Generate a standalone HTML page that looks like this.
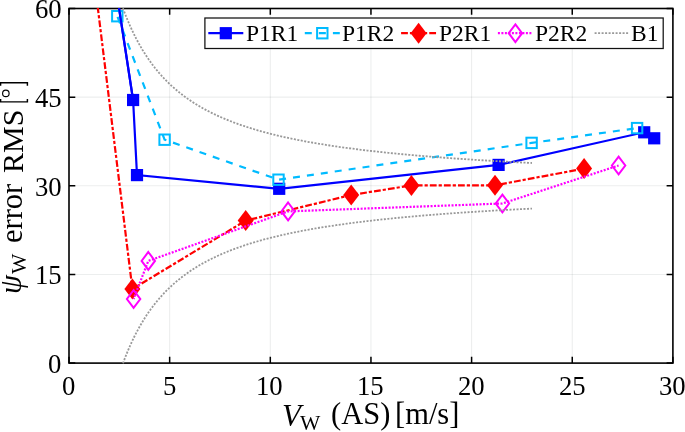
<!DOCTYPE html>
<html><head><meta charset="utf-8"><style>
html,body{margin:0;padding:0;background:#fff;width:685px;height:432px;overflow:hidden}
svg{display:block}
body{font-family:"Liberation Serif",serif;color:#000}
.tx{position:absolute;line-height:1;white-space:nowrap;will-change:transform}
.sub{font-size:0.7em;position:relative;top:0.1em}
i{font-style:italic}
</style></head><body>
<svg width="685" height="432" viewBox="0 0 685 432">
<defs><clipPath id="c"><rect x="68.4" y="7.9" width="605.1" height="355.8"/></clipPath></defs>
<rect width="685" height="432" fill="#fff"/>
<path d="M169.65,8.5 V363.1 M270.30,8.5 V363.1 M370.95,8.5 V363.1 M471.60,8.5 V363.1 M572.25,8.5 V363.1" stroke="rgba(0,25,25,0.075)" stroke-width="1.1" fill="none"/>
<path d="M69.0,274.45 H672.9 M69.0,185.80 H672.9 M69.0,97.15 H672.9" stroke="rgba(0,25,25,0.075)" stroke-width="1.1" fill="none"/>
<path d="M69.00,363.1 V356.8 M69.00,8.5 V14.8 M169.65,363.1 V356.8 M169.65,8.5 V14.8 M270.30,363.1 V356.8 M270.30,8.5 V14.8 M370.95,363.1 V356.8 M370.95,8.5 V14.8 M471.60,363.1 V356.8 M471.60,8.5 V14.8 M572.25,363.1 V356.8 M572.25,8.5 V14.8 M672.90,363.1 V356.8 M672.90,8.5 V14.8 M69.0,363.10 H75.3 M672.9,363.10 H666.6 M69.0,274.45 H75.3 M672.9,274.45 H666.6 M69.0,185.80 H75.3 M672.9,185.80 H666.6 M69.0,97.15 H75.3 M672.9,97.15 H666.6 M69.0,8.50 H75.3 M672.9,8.50 H666.6" stroke="#000" stroke-width="1.5" fill="none"/>
<rect x="69.0" y="8.5" width="603.90" height="354.60" fill="none" stroke="#000" stroke-width="1.6"/>
<g clip-path="url(#c)">
<path d="M114.50,-21.50 L133.10,100.00 L137.00,175.10 L279.20,188.80 L498.60,164.90 L644.20,132.30 L654.20,138.30" fill="none" stroke="#0000ff" stroke-width="2.2"/>
<rect x="127.00" y="93.90" width="12.2" height="12.2" fill="#0000ff"/>
<rect x="130.90" y="169.00" width="12.2" height="12.2" fill="#0000ff"/>
<rect x="273.10" y="182.70" width="12.2" height="12.2" fill="#0000ff"/>
<rect x="492.50" y="158.80" width="12.2" height="12.2" fill="#0000ff"/>
<rect x="638.10" y="126.20" width="12.2" height="12.2" fill="#0000ff"/>
<rect x="648.10" y="132.20" width="12.2" height="12.2" fill="#0000ff"/>
<path d="M117.30,16.20 L164.60,139.70 L278.50,179.70 L531.60,142.90 L637.10,128.10" fill="none" stroke="#00bbff" stroke-width="2.2" stroke-dasharray="7 7.05" stroke-dashoffset="-0.68"/>
<rect x="112.10" y="11.00" width="10.4" height="10.4" fill="none" stroke="#00bbff" stroke-width="2"/>
<rect x="159.40" y="134.50" width="10.4" height="10.4" fill="none" stroke="#00bbff" stroke-width="2"/>
<rect x="273.30" y="174.50" width="10.4" height="10.4" fill="none" stroke="#00bbff" stroke-width="2"/>
<rect x="526.40" y="137.70" width="10.4" height="10.4" fill="none" stroke="#00bbff" stroke-width="2"/>
<rect x="631.90" y="122.90" width="10.4" height="10.4" fill="none" stroke="#00bbff" stroke-width="2"/>
<path d="M114.50,-21.50 L133.10,100.00" fill="none" stroke="#0000ff" stroke-width="2.2"/>
<path d="M92.98,-31.50 L132.40,289.10 L245.70,220.60 L351.20,195.00 L411.40,185.40 L495.00,185.30 L584.10,168.60" fill="none" stroke="#ff0000" stroke-width="2.2" stroke-dasharray="6.8 2.0 3.2 2.075" stroke-dashoffset="4.07"/>
<path d="M132.40,278.60 L140.40,289.10 L132.40,299.60 L124.40,289.10 Z" fill="#ff0000"/>
<path d="M245.70,210.10 L253.70,220.60 L245.70,231.10 L237.70,220.60 Z" fill="#ff0000"/>
<path d="M351.20,184.50 L359.20,195.00 L351.20,205.50 L343.20,195.00 Z" fill="#ff0000"/>
<path d="M411.40,174.90 L419.40,185.40 L411.40,195.90 L403.40,185.40 Z" fill="#ff0000"/>
<path d="M495.00,174.80 L503.00,185.30 L495.00,195.80 L487.00,185.30 Z" fill="#ff0000"/>
<path d="M584.10,158.10 L592.10,168.60 L584.10,179.10 L576.10,168.60 Z" fill="#ff0000"/>
<path d="M133.60,299.00 L148.30,260.90 L288.10,211.40 L502.40,203.50 L618.60,165.50" fill="none" stroke="#ff00ff" stroke-width="2.2" stroke-dasharray="2 1.5" stroke-dashoffset="0.8"/>
<path d="M133.60,290.10 L140.30,299.00 L133.60,307.90 L126.90,299.00 Z" fill="none" stroke="#ff00ff" stroke-width="2"/>
<path d="M148.30,252.00 L155.00,260.90 L148.30,269.80 L141.60,260.90 Z" fill="none" stroke="#ff00ff" stroke-width="2"/>
<path d="M288.10,202.50 L294.80,211.40 L288.10,220.30 L281.40,211.40 Z" fill="none" stroke="#ff00ff" stroke-width="2"/>
<path d="M502.40,194.60 L509.10,203.50 L502.40,212.40 L495.70,203.50 Z" fill="none" stroke="#ff00ff" stroke-width="2"/>
<path d="M618.60,156.60 L625.30,165.50 L618.60,174.40 L611.90,165.50 Z" fill="none" stroke="#ff00ff" stroke-width="2"/>
<path d="M115.30,-15.00 L117.38,-8.15 L119.47,-1.71 L121.55,4.36 L123.63,10.09 L125.72,15.49 L127.80,20.60 L129.88,25.44 L131.97,30.02 L134.05,34.36 L136.13,38.48 L138.22,42.40 L140.30,46.12 L142.38,49.67 L144.47,53.05 L146.55,56.27 L148.63,59.35 L150.72,62.29 L152.80,65.11 L154.88,67.80 L156.97,70.38 L159.05,72.86 L161.14,75.23 L163.22,77.51 L165.30,79.70 L167.39,81.81 L169.47,83.84 L171.55,85.79 L173.64,87.67 L175.72,89.48 L177.80,91.23 L179.89,92.92 L181.97,94.55 L184.05,96.13 L186.14,97.65 L188.22,99.12 L190.30,100.55 L192.39,101.93 L194.47,103.27 L196.55,104.56 L198.64,105.82 L200.72,107.04 L202.80,108.22 L204.89,109.37 L206.97,110.49 L209.05,111.57 L211.14,112.63 L213.22,113.65 L215.30,114.65 L217.39,115.62 L219.47,116.57 L221.56,117.49 L223.64,118.38 L225.72,119.26 L227.81,120.11 L229.89,120.94 L231.97,121.75 L234.06,122.54 L236.14,123.31 L238.22,124.06 L240.31,124.79 L242.39,125.51 L244.47,126.21 L246.56,126.90 L248.64,127.57 L250.72,128.22 L252.81,128.86 L254.89,129.49 L256.97,130.10 L259.06,130.70 L261.14,131.29 L263.22,131.86 L265.31,132.43 L267.39,132.98 L269.47,133.52 L271.56,134.05 L273.64,134.57 L275.73,135.07 L277.81,135.57 L279.89,136.06 L281.98,136.54 L284.06,137.01 L286.14,137.47 L288.23,137.93 L290.31,138.37 L292.39,138.81 L294.48,139.24 L296.56,139.66 L298.64,140.07 L300.73,140.48 L302.81,140.88 L304.89,141.27 L306.98,141.66 L309.06,142.03 L311.14,142.41 L313.23,142.77 L315.31,143.13 L317.39,143.49 L319.48,143.84 L321.56,144.18 L323.64,144.52 L325.73,144.85 L327.81,145.17 L329.89,145.49 L331.98,145.81 L334.06,146.12 L336.15,146.43 L338.23,146.73 L340.31,147.03 L342.40,147.32 L344.48,147.61 L346.56,147.89 L348.65,148.17 L350.73,148.45 L352.81,148.72 L354.90,148.99 L356.98,149.25 L359.06,149.52 L361.15,149.77 L363.23,150.03 L365.31,150.27 L367.40,150.52 L369.48,150.76 L371.56,151.00 L373.65,151.24 L375.73,151.47 L377.81,151.70 L379.90,151.93 L381.98,152.15 L384.06,152.37 L386.15,152.59 L388.23,152.81 L390.32,153.02 L392.40,153.23 L394.48,153.44 L396.57,153.64 L398.65,153.84 L400.73,154.04 L402.82,154.24 L404.90,154.44 L406.98,154.63 L409.07,154.82 L411.15,155.01 L413.23,155.19 L415.32,155.37 L417.40,155.56 L419.48,155.73 L421.57,155.91 L423.65,156.09 L425.73,156.26 L427.82,156.43 L429.90,156.60 L431.98,156.76 L434.07,156.93 L436.15,157.09 L438.23,157.25 L440.32,157.41 L442.40,157.57 L444.48,157.73 L446.57,157.88 L448.65,158.03 L450.74,158.18 L452.82,158.33 L454.90,158.48 L456.99,158.63 L459.07,158.77 L461.15,158.91 L463.24,159.06 L465.32,159.20 L467.40,159.33 L469.49,159.47 L471.57,159.61 L473.65,159.74 L475.74,159.87 L477.82,160.01 L479.90,160.14 L481.99,160.27 L484.07,160.39 L486.15,160.52 L488.24,160.64 L490.32,160.77 L492.40,160.89 L494.49,161.01 L496.57,161.13 L498.65,161.25 L500.74,161.37 L502.82,161.49 L504.91,161.60 L506.99,161.72 L509.07,161.83 L511.16,161.94 L513.24,162.06 L515.32,162.17 L517.41,162.28 L519.49,162.38 L521.57,162.49 L523.66,162.60 L525.74,162.70 L527.82,162.81 L529.91,162.91 L531.99,163.01" fill="none" stroke="#999999" stroke-width="1.8" stroke-dasharray="2 1.5"/>
<path d="M115.30,386.60 L117.38,379.75 L119.47,373.31 L121.55,367.24 L123.63,361.51 L125.72,356.11 L127.80,351.00 L129.88,346.16 L131.97,341.58 L134.05,337.24 L136.13,333.12 L138.22,329.20 L140.30,325.48 L142.38,321.93 L144.47,318.55 L146.55,315.33 L148.63,312.25 L150.72,309.31 L152.80,306.49 L154.88,303.80 L156.97,301.22 L159.05,298.74 L161.14,296.37 L163.22,294.09 L165.30,291.90 L167.39,289.79 L169.47,287.76 L171.55,285.81 L173.64,283.93 L175.72,282.12 L177.80,280.37 L179.89,278.68 L181.97,277.05 L184.05,275.47 L186.14,273.95 L188.22,272.48 L190.30,271.05 L192.39,269.67 L194.47,268.33 L196.55,267.04 L198.64,265.78 L200.72,264.56 L202.80,263.38 L204.89,262.23 L206.97,261.11 L209.05,260.03 L211.14,258.97 L213.22,257.95 L215.30,256.95 L217.39,255.98 L219.47,255.03 L221.56,254.11 L223.64,253.22 L225.72,252.34 L227.81,251.49 L229.89,250.66 L231.97,249.85 L234.06,249.06 L236.14,248.29 L238.22,247.54 L240.31,246.81 L242.39,246.09 L244.47,245.39 L246.56,244.70 L248.64,244.03 L250.72,243.38 L252.81,242.74 L254.89,242.11 L256.97,241.50 L259.06,240.90 L261.14,240.31 L263.22,239.74 L265.31,239.17 L267.39,238.62 L269.47,238.08 L271.56,237.55 L273.64,237.03 L275.73,236.53 L277.81,236.03 L279.89,235.54 L281.98,235.06 L284.06,234.59 L286.14,234.13 L288.23,233.67 L290.31,233.23 L292.39,232.79 L294.48,232.36 L296.56,231.94 L298.64,231.53 L300.73,231.12 L302.81,230.72 L304.89,230.33 L306.98,229.94 L309.06,229.57 L311.14,229.19 L313.23,228.83 L315.31,228.47 L317.39,228.11 L319.48,227.76 L321.56,227.42 L323.64,227.08 L325.73,226.75 L327.81,226.43 L329.89,226.11 L331.98,225.79 L334.06,225.48 L336.15,225.17 L338.23,224.87 L340.31,224.57 L342.40,224.28 L344.48,223.99 L346.56,223.71 L348.65,223.43 L350.73,223.15 L352.81,222.88 L354.90,222.61 L356.98,222.35 L359.06,222.08 L361.15,221.83 L363.23,221.57 L365.31,221.33 L367.40,221.08 L369.48,220.84 L371.56,220.60 L373.65,220.36 L375.73,220.13 L377.81,219.90 L379.90,219.67 L381.98,219.45 L384.06,219.23 L386.15,219.01 L388.23,218.79 L390.32,218.58 L392.40,218.37 L394.48,218.16 L396.57,217.96 L398.65,217.76 L400.73,217.56 L402.82,217.36 L404.90,217.16 L406.98,216.97 L409.07,216.78 L411.15,216.59 L413.23,216.41 L415.32,216.23 L417.40,216.04 L419.48,215.87 L421.57,215.69 L423.65,215.51 L425.73,215.34 L427.82,215.17 L429.90,215.00 L431.98,214.84 L434.07,214.67 L436.15,214.51 L438.23,214.35 L440.32,214.19 L442.40,214.03 L444.48,213.87 L446.57,213.72 L448.65,213.57 L450.74,213.42 L452.82,213.27 L454.90,213.12 L456.99,212.97 L459.07,212.83 L461.15,212.69 L463.24,212.54 L465.32,212.40 L467.40,212.27 L469.49,212.13 L471.57,211.99 L473.65,211.86 L475.74,211.73 L477.82,211.59 L479.90,211.46 L481.99,211.33 L484.07,211.21 L486.15,211.08 L488.24,210.96 L490.32,210.83 L492.40,210.71 L494.49,210.59 L496.57,210.47 L498.65,210.35 L500.74,210.23 L502.82,210.11 L504.91,210.00 L506.99,209.88 L509.07,209.77 L511.16,209.66 L513.24,209.54 L515.32,209.43 L517.41,209.32 L519.49,209.22 L521.57,209.11 L523.66,209.00 L525.74,208.90 L527.82,208.79 L529.91,208.69 L531.99,208.59" fill="none" stroke="#999999" stroke-width="1.8" stroke-dasharray="2 1.5"/>
</g>
<path d="M0.6,85.7 V82.65 H27.4 V85.7 M0.6,99.0 V101.85 H27.4 V99.0" fill="none" stroke="#000" stroke-width="1.45"/>
<circle cx="5.85" cy="93.4" r="3.25" fill="none" stroke="#000" stroke-width="1.15"/>
<rect x="204.9" y="18.0" width="458.30" height="30.50" fill="#fff" stroke="#111" stroke-width="1.25"/>
<path d="M208.3,33.2 H243.3" stroke="#0000ff" stroke-width="2.2"/>
<rect x="219.70" y="27.10" width="12.2" height="12.2" fill="#0000ff"/>
<path d="M304.8,33.2 H339.8" stroke="#00bbff" stroke-width="2.2" stroke-dasharray="7 7.05"/>
<rect x="317.10" y="28.00" width="10.4" height="10.4" fill="none" stroke="#00bbff" stroke-width="2"/>
<path d="M401.1,33.2 H436.1" stroke="#ff0000" stroke-width="2.2" stroke-dasharray="6.8 2.0 3.2 2.075"/>
<path d="M418.60,22.70 L426.60,33.20 L418.60,43.70 L410.60,33.20 Z" fill="#ff0000"/>
<path d="M497.9,33.2 H532.9" stroke="#ff00ff" stroke-width="2.2" stroke-dasharray="2 1.5"/>
<path d="M515.40,24.30 L522.10,33.20 L515.40,42.10 L508.70,33.20 Z" fill="none" stroke="#ff00ff" stroke-width="2"/>
<path d="M594.6,33.2 H629.6" stroke="#999999" stroke-width="1.8" stroke-dasharray="2 1.5"/>
</svg>
<div class="tx" style="left:61.96px;top:373.10px;font-size:26.7px;">0</div>
<div class="tx" style="left:162.78px;top:372.85px;font-size:26.7px;">5</div>
<div class="tx" style="left:256.30px;top:373.10px;font-size:26.7px;">10</div>
<div class="tx" style="left:356.95px;top:372.98px;font-size:26.7px;">15</div>
<div class="tx" style="left:458.23px;top:373.10px;font-size:26.7px;">20</div>
<div class="tx" style="left:558.88px;top:373.10px;font-size:26.7px;">25</div>
<div class="tx" style="left:659.47px;top:373.10px;font-size:26.7px;">30</div>
<div class="tx" style="left:47.92px;top:350.95px;font-size:26.7px">0</div>
<div class="tx" style="left:34.57px;top:262.18px;font-size:26.7px">15</div>
<div class="tx" style="left:34.57px;top:173.65px;font-size:26.7px">30</div>
<div class="tx" style="left:34.57px;top:84.88px;font-size:26.7px">45</div>
<div class="tx" style="left:34.57px;top:-3.65px;font-size:26.7px">60</div>
<div class="tx" style="left:282.28px;top:399.84px;font-size:31px;"><i>V</i></div>
<div class="tx" style="left:299.60px;top:412.59px;font-size:21.5px;">W</div>
<div class="tx" style="left:331.42px;top:399.46px;font-size:30.5px;">(AS)</div>
<div class="tx" style="left:395.15px;top:399.46px;font-size:30.5px;">[m/s]</div>
<div style="position:absolute;left:0;top:0;transform-origin:0 0;transform:rotate(-90deg)"><div class="tx" style="left:-294.08px;top:-3.94px;font-size:30.5px;"><i>&psi;</i></div><div class="tx" style="left:-273.80px;top:9.19px;font-size:21.5px;">W</div><div class="tx" style="left:-243.25px;top:-2.54px;font-size:30.5px;">error</div><div class="tx" style="left:-173.38px;top:-2.43px;font-size:30px;">RMS</div></div>
<div class="tx" style="left:245.78px;top:22.32px;font-size:23.5px;">P1R1</div>
<div class="tx" style="left:341.58px;top:22.32px;font-size:23.5px;">P1R2</div>
<div class="tx" style="left:438.98px;top:22.32px;font-size:23.5px;">P2R1</div>
<div class="tx" style="left:535.38px;top:22.32px;font-size:23.5px;">P2R2</div>
<div class="tx" style="left:631.28px;top:22.32px;font-size:23.5px;">B1</div>
</body></html>
